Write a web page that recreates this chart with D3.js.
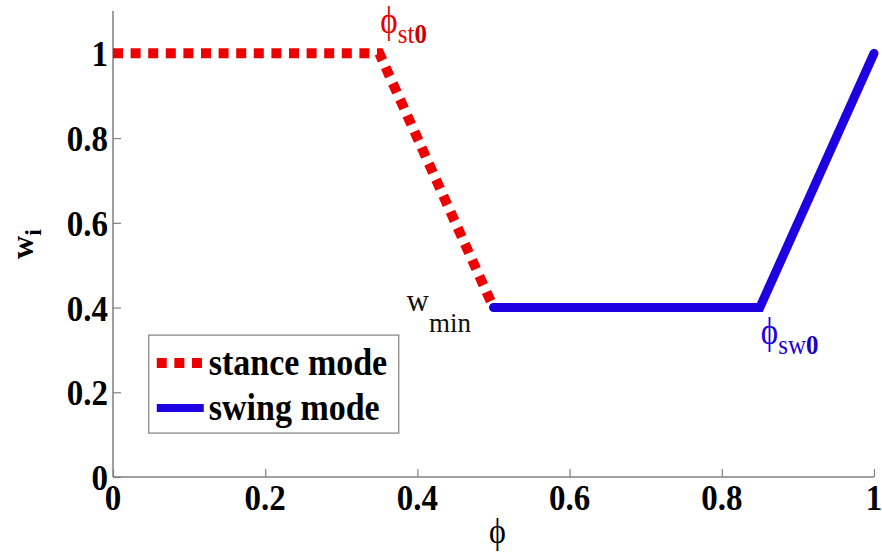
<!DOCTYPE html>
<html>
<head>
<meta charset="utf-8">
<script src="https://cdn.jsdelivr.net/npm/d3@7"></script>
<style>
  body { margin: 0; background: #fff; }
  text { font-family: "Liberation Serif", "Times New Roman", serif; }
</style>
</head>
<body>
<div id="chart-area"></div>
<script>
// data
const stancePhi = [0, 0.35, 0.5]
const stanceW = [1, 1, 0.4]
const swingPhi = [0.5, 0.85, 1]
const swingW = [0.4, 0.4, 1]
const tickValues = [0, 0.2, 0.4, 0.6, 0.8, 1]
const tickLabels = ["0", "0.2", "0.4", "0.6", "0.8", "1"]
const legendLabels = ["stance mode", "swing mode"]

const W = 882, H = 556
const margin = { left: 113, right: 8, top: 11, bottom: 79 }
const width = W - margin.left - margin.right,
    height = H - margin.top - margin.bottom

const red = "#ec0000", blue = "#1e00e0", axisColor = "#808080"

const svg = d3.select("#chart-area")
    .append("svg")
        .attr("width", W)
        .attr("height", H)

const g = svg.append("g")
    .attr("transform", `translate(${margin.left}, ${margin.top})`)

const x = d3.scaleLinear().domain([0, 1]).range([0, width])
const y = d3.scaleLinear().domain([0, 1.1]).range([height, 0])

// axes lines (left + bottom only)
g.append("line")
    .attr("x1", 0).attr("x2", 0).attr("y1", 0).attr("y2", height)
    .attr("stroke", axisColor).attr("stroke-width", 1.5)
g.append("line")
    .attr("x1", 0).attr("x2", width).attr("y1", height).attr("y2", height)
    .attr("stroke", axisColor).attr("stroke-width", 1.5)

// ticks pointing inward
const xAxisCall = d3.axisTop(x).tickValues(tickValues).tickSize(8).tickFormat("")
const yAxisCall = d3.axisRight(y).tickValues(tickValues).tickSize(8).tickFormat("")

const xAxisGroup = g.append("g").attr("transform", `translate(0, ${height})`).call(xAxisCall)
const yAxisGroup = g.append("g").call(yAxisCall)
;[xAxisGroup, yAxisGroup].forEach(a => {
    a.select(".domain").remove()
    a.selectAll(".tick line").attr("stroke", axisColor).attr("stroke-width", 1.2)
})

// tick labels (slightly tall glyphs like the original)
g.selectAll(".xlab")
    .data(tickValues)
    .enter().append("text")
    .attr("class", "xlab")
    .attr("transform", d => `translate(${x(d)}, ${height + 33}) scale(1, 1.1)`)
    .attr("text-anchor", "middle")
    .attr("font-size", "33px")
    .attr("font-weight", "bold")
    .text((d, i) => tickLabels[i])

g.selectAll(".ylab")
    .data(tickValues)
    .enter().append("text")
    .attr("class", "ylab")
    .attr("transform", d => `translate(-5, ${y(d) + 13}) scale(1, 1.1)`)
    .attr("text-anchor", "end")
    .attr("font-size", "33px")
    .attr("font-weight", "bold")
    .text((d, i) => tickLabels[i])

// axis titles
g.append("text")
    .attr("transform", `translate(${x(0.5) + 4}, ${height + 66}) scale(1, 1.15)`)
    .attr("text-anchor", "middle")
    .attr("font-size", "32px")
    .text("\u03D5")

const yTitle = g.append("text")
    .attr("transform", `translate(${-80}, ${y(0.55)}) rotate(-90)`)
    .attr("text-anchor", "middle")
    .attr("font-weight", "bold")
yTitle.append("tspan").attr("font-size", "32px").text("w")
yTitle.append("tspan").attr("font-size", "24px").attr("dy", 8).text("i")

// lines
const line = d3.line().x(d => x(d[0])).y(d => y(d[1]))
const stance = stancePhi.map((p, i) => [p, stanceW[i]])
const swing = swingPhi.map((p, i) => [p, swingW[i]])

g.append("path")
    .datum(swing)
    .attr("d", line)
    .attr("fill", "none")
    .attr("stroke", blue)
    .attr("stroke-width", 9)
    .attr("stroke-linecap", "round")
    .attr("stroke-linejoin", "miter")

g.append("path")
    .datum(stance)
    .attr("d", line)
    .attr("fill", "none")
    .attr("stroke", red)
    .attr("stroke-width", 10)
    .attr("stroke-dasharray", "10,7.6")

// annotations
function phiLabel(px, py, sub, color) {
    const t = g.append("text")
        .attr("transform", `translate(${px}, ${py}) scale(1, 1.12)`)
        .attr("fill", color)
    t.append("tspan").attr("font-size", "33px").text("\u03D5")
    t.append("tspan").attr("font-size", "25px").attr("dy", 9).text(sub)
    t.append("tspan").attr("font-size", "25px").attr("font-weight", "bold")
        .attr("fill", d3.color(color).darker(0.4)).text("0")
}
phiLabel(x(stancePhi[1]) + 1, y(stanceW[1]) - 20, "st", red)
phiLabel(x(swingPhi[1]) + 1, y(swingW[1]) + 36, "sw", blue)

const wmin = g.append("text")
    .attr("x", x(stancePhi[2]) - 87)
    .attr("y", y(stanceW[2]) + 3)
    .attr("fill", "#111")
wmin.append("tspan").attr("font-size", "31px").text("w")
wmin.append("tspan").attr("font-size", "27px").attr("dy", 21).text("min")

// legend
const legend = g.append("g")
    .attr("transform", `translate(${x(0.047)}, ${y(0.335)})`)

legend.append("rect")
    .attr("width", 250)
    .attr("height", 98)
    .attr("fill", "#fff")
    .attr("stroke", axisColor)
    .attr("stroke-width", 1.2)

const legendStyles = [
    { color: red, width: 10, dash: "10,7.6" },
    { color: blue, width: 8, dash: null }
]
legendLabels.forEach((label, i) => {
    const row = legend.append("g")
        .attr("transform", `translate(0, ${28 + i * 45})`)
    row.append("line")
        .attr("x1", 8).attr("x2", 55)
        .attr("stroke", legendStyles[i].color)
        .attr("stroke-width", legendStyles[i].width)
        .attr("stroke-dasharray", legendStyles[i].dash)
    row.append("text")
        .attr("transform", "translate(60, 12) scale(1, 1.1)")
        .attr("font-size", "34px")
        .attr("font-weight", "bold")
        .text(label)
})
</script>
</body>
</html>
